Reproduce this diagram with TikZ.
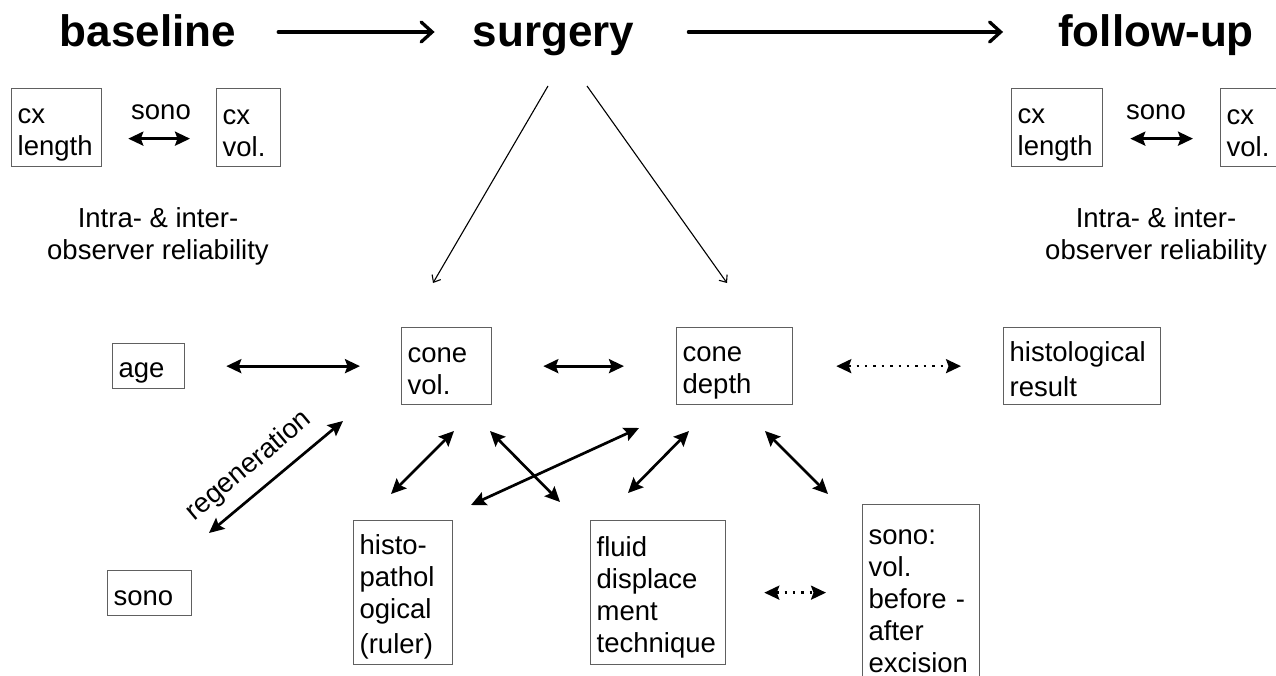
\documentclass[tikz,border=0pt]{standalone}
\usepackage{fontspec}
\setmainfont{Liberation Sans}
\usetikzlibrary{arrows.meta,calc}
\definecolor{boxgray}{HTML}{606060}
\newcommand\boxstrut{\rule[-3.5pt]{0pt}{32pt}}
\begin{document}
\begin{tikzpicture}[x=1pt,y=-1pt,
  every node/.style={font=\fontsize{27.5}{32}\selectfont, text=black},
  box/.style={draw=boxgray, line width=1.3pt, anchor=north west, inner xsep=6pt, inner ysep=0pt, align=left},
  title/.style={font=\fontsize{44}{50}\selectfont\bfseries, inner sep=0pt, anchor=base},
  biarrow/.style={line width=2.7pt, {Stealth[length=15pt,width=14pt,inset=2.5pt]}-{Stealth[length=15pt,width=14pt,inset=2.5pt]}},
  dotarrow/.style={biarrow, line width=2.4pt, dash pattern=on 2.4pt off 6pt},
  titlearrow/.style={line width=3.3pt, line cap=round, -{Straight Barb[length=11pt,width=20pt,line cap=round]}},
  thinarrow/.style={line width=1.1pt, -{Straight Barb[length=6pt,width=10pt]}},
  plain/.style={align=center, inner sep=0pt}
]
\useasboundingbox (0,0) rectangle (1276,676);
\clip (0,0) rectangle (1276,676);

% titles
\node[title] (baseline) at (148,47) {baseline};
\node[title] (surgery) at (553.5,47) {surgery};
\node[title] (followup) at (1156,47) {follow-up};
\draw[titlearrow] ($(baseline.base east)+(42,-15)$) -- ($(surgery.base west)+(-38,-15)$);
\draw[titlearrow] ($(surgery.base east)+(54,-15)$) -- ($(followup.base west)+(-55,-15)$);

% baseline measurements
\node[box, text width=78pt, minimum height=78pt] (bxl) at (11,88) {\boxstrut cx\\length\boxstrut};
\node[box, text width=52pt, minimum height=78pt] (bvl) at (216,88) {\boxstrut cx\\vol.\boxstrut};
\node[plain] (sonol) at (161,112) {sono};
\draw[biarrow] ($(bxl.east)+(26,11)$) -- ($(bvl.west)+(-26,11)$);
\node[plain] (reliabl) at (158,236) {Intra- \& inter-\\observer reliability};

% follow-up measurements
\node[box, text width=79pt, minimum height=78pt] (bxr) at (1011,88) {\boxstrut cx\\length\boxstrut};
\node[box, text width=52pt, minimum height=78pt] (bvr) at (1220,88) {\boxstrut cx\\vol.\boxstrut};
\node[plain] (sonor) at (1156,112) {sono};
\draw[biarrow] ($(bxr.east)+(27,11)$) -- ($(bvr.west)+(-27,11)$);
\node[plain] (reliabr) at (1156,236) {Intra- \& inter-\\observer reliability};

% surgery arrows
\coordinate (s1) at (548,86);
\coordinate (s2) at (433,283);
\coordinate (s3) at (587,86);
\coordinate (s4) at (727,283);
\draw[thinarrow] (s1) -- (s2);
\draw[thinarrow] (s3) -- (s4);

% middle row
\node[box, text width=60pt, minimum height=45pt] (age) at (112,343) {\boxstrut age};
\node[box, text width=78pt, minimum height=77pt] (conevol) at (401,327) {\boxstrut cone\\vol.\boxstrut};
\node[box, text width=104pt, minimum height=77pt] (conedepth) at (676,327) {\boxstrut cone\\depth\boxstrut};
\node[box, text width=145pt, minimum height=77pt] (histres) at (1003,327) {\boxstrut histological\\result\boxstrut};
\draw[biarrow, shorten <=41pt, shorten >=41pt] (age) -- (conevol);
\draw[biarrow, shorten <=51pt, shorten >=52pt] (conevol) -- (conedepth);
\draw[dotarrow, shorten <=43pt, shorten >=42pt] (conedepth) -- (histres);

% bottom row
\node[box, text width=72pt, minimum height=45pt] (sono) at (107,570) {\boxstrut sono};
\node[box, text width=87pt, minimum height=144pt] (histo) at (353,520) {\boxstrut histo-\\pathol\\ogical\\(ruler)\boxstrut};
\node[box, text width=123pt, minimum height=144pt] (fluid) at (590,520) {\boxstrut fluid\\displace\\ment\\technique\boxstrut};
\node[box, text width=105pt, minimum height=182pt] (sonovol) at (862,504) {\boxstrut sono:\\vol.\\before -\\after\\excision\boxstrut};
\draw[dotarrow, shorten <=38pt, shorten >=36pt] (fluid.east) -- (fluid.east -| sonovol.west);

% regeneration
\coordinate (r1) at (343,421);
\coordinate (r2) at (209,533);
\draw[biarrow] (r1) -- (r2);
\node[inner sep=0pt, rotate=40] (regen) at (249,466) {regeneration};

% diagonal connectors
\coordinate (c1) at (454,431);
\coordinate (c2) at (391,494);
\coordinate (c3) at (490,431);
\coordinate (c4) at (560,502);
\coordinate (c5) at (639,428);
\coordinate (c6) at (471,505);
\coordinate (c7) at (689,431);
\coordinate (c8) at (628,493);
\coordinate (c9) at (765,431);
\coordinate (c10) at (828,494);
\draw[biarrow] (c1) -- (c2);
\draw[biarrow] (c3) -- (c4);
\draw[biarrow] (c5) -- (c6);
\draw[biarrow] (c7) -- (c8);
\draw[biarrow] (c9) -- (c10);
\end{tikzpicture}
\end{document}
